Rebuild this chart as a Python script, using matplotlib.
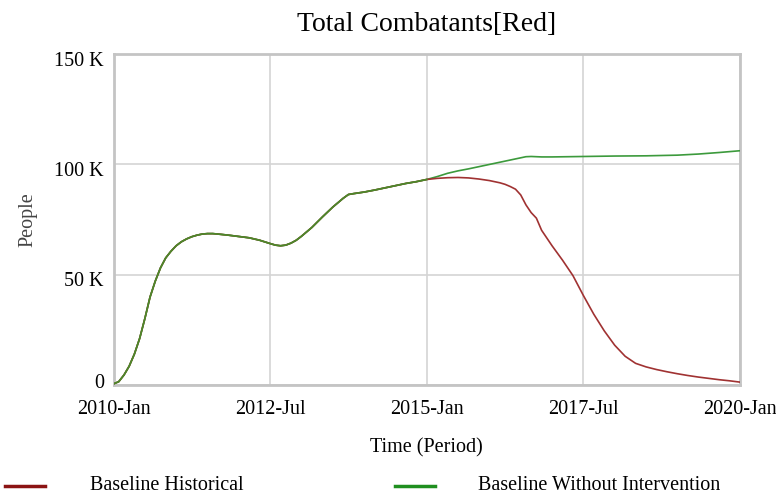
import matplotlib.pyplot as plt
import matplotlib.transforms as mtransforms
from matplotlib.lines import Line2D

# Data (months since 2010-Jan, values in thousands of people)
months_shared = [0, 1, 2, 3, 4, 5, 6, 7, 8, 9, 10, 11, 12, 13, 14, 15, 16, 17, 18, 19, 20,
                 22, 24, 26, 28, 30, 31, 32, 33, 34, 35, 36, 38, 40, 42, 44, 45, 46, 48,
                 50, 52, 54, 56, 58, 60]
values_shared = [0.5, 1.5, 4.5, 8.5, 14, 21, 30, 39.8, 47, 53, 57.5, 60.5, 63, 64.8, 66.1, 67.1,
                 67.8, 68.3, 68.5, 68.5, 68.3, 67.8, 67.2, 66.6, 65.5, 64, 63.3, 63, 63.3, 64.2,
                 65.5, 67.3, 71.3, 76, 80.5, 84.5, 86.2, 86.6, 87.3, 88.2, 89.2, 90.2, 91.2, 92, 93]

months_green = [62, 64, 66, 68, 70, 72, 74, 76, 78, 79, 80, 82, 84, 90, 96, 102, 108, 112, 116, 120]
values_green = [94.3, 95.8, 96.9, 97.8, 98.8, 99.8, 100.8, 101.8, 102.8, 103.3, 103.4, 103.2,
                103.2, 103.4, 103.6, 103.7, 104, 104.5, 105.2, 106]

months_red = [62, 64, 66, 68, 70, 72, 74, 75, 76, 77, 78, 79, 80, 81, 82, 84, 86, 88, 90, 92,
              94, 96, 98, 100, 102, 104, 106, 108, 110, 112, 114, 116, 118, 120]
values_red = [93.5, 93.8, 93.9, 93.7, 93.2, 92.5, 91.5, 90.8, 89.8, 88.6, 86, 81.5, 78, 75.5, 70,
              63, 56.5, 49.5, 40.5, 32, 24.5, 18, 13, 9.8, 8.2, 7.0, 6.0, 5.1, 4.3, 3.6, 3.0,
              2.4, 1.9, 1.3]

x_ticks = [0, 30, 60, 90, 120]
x_labels = ["2010-Jan", "2012-Jul", "2015-Jan", "2017-Jul", "2020-Jan"]
y_ticks = [0, 50000, 100000, 150000]
y_labels = ["0", "50 K", "100 K", "150 K"]

red_color = "#a03232"
green_color = "#3c9a3c"

plt.rcParams['font.family'] = ['Liberation Serif', 'DejaVu Serif']

fig = plt.figure(figsize=(7.76, 4.96), dpi=100)
ax = fig.add_axes([113.5 / 776, 1 - 385 / 496, (740 - 113.5) / 776, (385 - 53.5) / 496])

hist_x = months_shared + months_red
hist_y = [v * 1000 for v in values_shared + values_red]
green_x = months_shared + months_green
green_y = [v * 1000 for v in values_shared + values_green]

ax.plot(green_x, green_y, color=green_color, lw=1.2, zorder=3)
ax.plot(hist_x, hist_y, color=red_color, lw=1.2, zorder=4)
# both series overlap here; darker olive like the reference
ax.plot(months_shared, [v * 1000 for v in values_shared], color="#4a8a2a", lw=1.2, zorder=5)

ax.set_xlim(0, 120)
ax.set_ylim(0, 150000)
ax.set_xticks(x_ticks)
ax.set_xticklabels(x_labels, fontsize=14.5)
ax.set_yticks(y_ticks)
ax.set_yticklabels(y_labels, fontsize=14.5)
ax.tick_params(length=0)
ax.tick_params(axis="x", pad=11)
ax.tick_params(axis="y", pad=7)
ax.grid(True, color="#d4d4d4", lw=1.2)
ax.set_axisbelow(True)
for s in ax.spines.values():
    s.set_color("#c4c4c4")
    s.set_linewidth(2)

# y labels sit a little below their gridlines, the "0" a little above
for lab in ax.get_yticklabels():
    dy = 4 if lab.get_text() == "0" else -5
    lab.set_transform(lab.get_transform() +
                      mtransforms.ScaledTranslation(0, dy / 100, fig.dpi_scale_trans))

ax.set_title("Total Combatants[Red]", fontsize=20, pad=16)
ax.set_xlabel("Time (Period)", fontsize=14.5, labelpad=14)
ax.set_ylabel("People", fontsize=14.5, color="#444444", labelpad=12)

# Legend
ly = 1 - 486 / 496
fig.add_artist(Line2D([5 / 776, 45 / 776], [ly, ly], color="#8b1414", lw=2.5))
fig.text(90 / 776, ly, "Baseline Historical", fontsize=14.5, va="center")
fig.add_artist(Line2D([395 / 776, 435 / 776], [ly, ly], color="#1f8f1f", lw=2.5))
fig.text(478 / 776, ly, "Baseline Without Intervention", fontsize=14.5, va="center")

fig.savefig("out.png", dpi=100)
